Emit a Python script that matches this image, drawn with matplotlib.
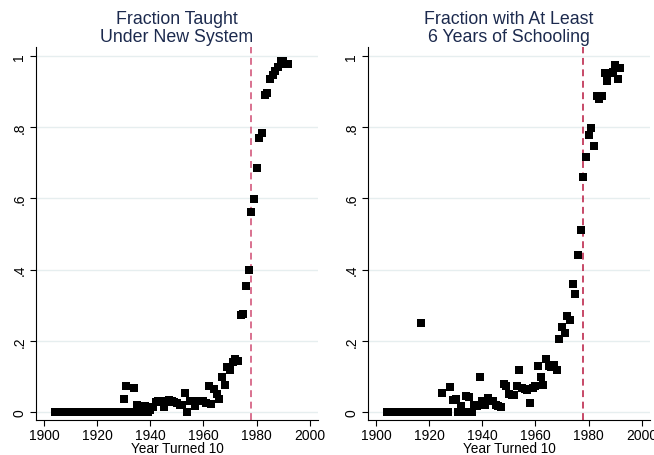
import matplotlib.pyplot as plt
import numpy as np

plt.rcParams["font.family"] = ["Liberation Sans", "DejaVu Sans"]

# left panel: share taught under the new system, by year turned 10
years_new = list(range(1904, 1993))
frac_new = (
    [0.0] * 26  # 1904-1929
    + [0.037, 0.072, 0.0, 0.0, 0.066, 0.021, 0.0, 0.005, 0.016, 0.0,   # 1930-1939
       0.005, 0.013, 0.027, 0.032, 0.031, 0.013, 0.027, 0.035, 0.031, 0.027,  # 1940-1949
       0.026, 0.020, 0.020, 0.052, 0.0, 0.031, 0.031, 0.017, 0.031, 0.031,  # 1950-1959
       0.031, 0.025, 0.072, 0.022, 0.064, 0.050, 0.036, 0.097, 0.076, 0.125,  # 1960-1969
       0.118, 0.140, 0.148, 0.144, 0.272, 0.275, 0.355, 0.400, 0.563, 0.598,  # 1970-1979
       0.685, 0.770, 0.783, 0.889, 0.896, 0.935, 0.947, 0.959, 0.968, 0.987,  # 1980-1989
       0.985, 0.977, 0.977]  # 1990-1992
)

# right panel: share with at least 6 years of schooling
years_six = list(range(1904, 1993))
frac_six = (
    [0.0] * 13  # 1904-1916
    + [0.25]  # 1917
    + [0.0] * 7  # 1918-1924
    + [0.052, 0.0, 0.0, 0.071, 0.035,  # 1925-1929
       0.037, 0.0, 0.018, 0.0, 0.044, 0.042, 0.0, 0.021, 0.018, 0.097,  # 1930-1939
       0.031, 0.020, 0.039, 0.031, 0.030, 0.020, 0.018, 0.014, 0.080, 0.072,  # 1940-1949
       0.050, 0.049, 0.049, 0.072, 0.117, 0.068, 0.064, 0.062, 0.025, 0.066,  # 1950-1959
       0.073, 0.130, 0.097, 0.077, 0.149, 0.130, 0.127, 0.133, 0.119, 0.206,  # 1960-1969
       0.239, 0.222, 0.269, 0.257, 0.360, 0.331, 0.441, 0.511, 0.660, 0.716,  # 1970-1979
       0.778, 0.797, 0.746, 0.888, 0.879, 0.886, 0.951, 0.929, 0.951, 0.954,  # 1980-1989
       0.975, 0.935, 0.966]  # 1990-1992
)

titles = ["Fraction Taught\nUnder New System", "Fraction with At Least\n6 Years of Schooling"]
reform_year = 1978
xticks = [1900, 1920, 1940, 1960, 1980, 2000]
yticks = [0, 0.2, 0.4, 0.6, 0.8, 1.0]
ytick_labels = ["0", ".2", ".4", ".6", ".8", "1"]
line_colors = ["#cf4a72", "#b8173f"]

fig = plt.figure(figsize=(6.54, 4.56), dpi=100)
ax_l = fig.add_axes([36 / 654, 35 / 456, 282 / 654, 373 / 456])
ax_r = fig.add_axes([368 / 654, 35 / 456, 282 / 654, 373 / 456])

panels = [(ax_l, years_new, frac_new), (ax_r, years_six, frac_six)]
for i, (ax, x, y) in enumerate(panels):
    ax.grid(True, axis="y", color="#e6eeef", linewidth=1.0)
    ax.set_axisbelow(True)
    ax.plot(np.array(x), np.array(y), "s", color="black", markersize=5.4,
            markeredgewidth=0, zorder=3)
    ax.axvline(reform_year, color=line_colors[i], linestyle=(0, (4.5, 3)),
               linewidth=1.1, zorder=2)

    ax.set_xlim(1897, 2003.1)
    ax.set_ylim(-0.0225, 1.025)
    ax.set_xticks(xticks)
    ax.set_yticks(yticks)
    ax.set_yticklabels(ytick_labels, rotation=90, va="center")
    ax.tick_params(axis="both", direction="out", length=4, width=0.8,
                   labelsize=10, color="black", pad=2)
    ax.tick_params(axis="y", pad=3)
    for side in ["top", "right"]:
        ax.spines[side].set_visible(False)
    for side in ["left", "bottom"]:
        ax.spines[side].set_linewidth(0.8)
    ax.set_xlabel("Year Turned 10", fontsize=9.8, labelpad=-1)
    ax.set_title(titles[i], fontsize=12.8, color="#1c2a4e", pad=4, linespacing=1.12)

fig.savefig("out.png", dpi=100, facecolor="white")
